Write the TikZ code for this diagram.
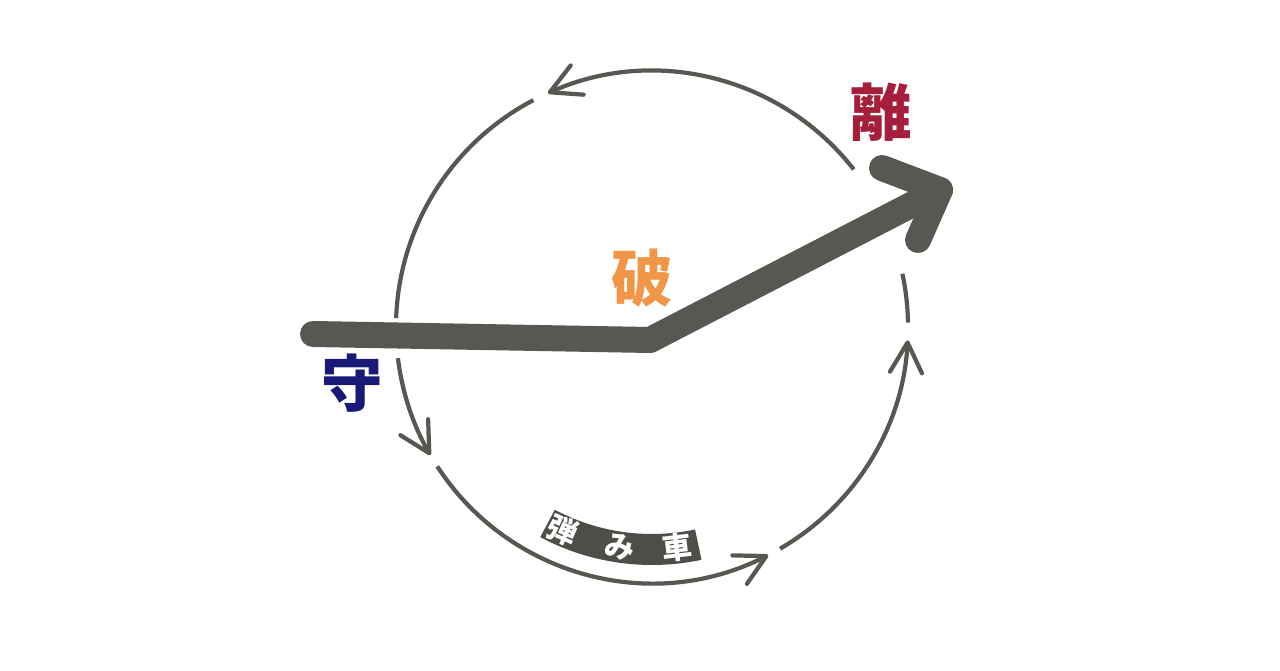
\documentclass[tikz,border=0pt]{standalone}
\usepackage{fontspec}
\usepackage{tikz}
\usepackage{xcolor}
\usetikzlibrary{arrows.meta, calc, positioning}
\newfontfamily\jp{Noto Sans CJK JP}
\definecolor{ringgray}{RGB}{88,88,82}
\definecolor{bandgray}{RGB}{78,78,72}
\definecolor{shucol}{RGB}{25,25,120}
\definecolor{hacol}{RGB}{240,150,70}
\definecolor{ricol}{RGB}{165,30,60}

\begin{document}
\begin{tikzpicture}[x=1cm, y=1cm,
        ring/.style={draw=ringgray, line width=1.2pt},
        tipped/.style={-{Straight Barb[length=3mm, width=3.2mm, round]}},
        kanji/.style={font=\jp\bfseries\fontsize{17.5pt}{18pt}\selectfont, inner sep=0pt},
        bandtext/.style={font=\jp\bfseries\fontsize{8.5pt}{9pt}\selectfont, text=white, inner sep=0pt},
        bigarrow/.style={draw=ringgray, line width=7.4pt, line cap=round, line join=round}]
    \useasboundingbox (0,0) rectangle (12.8,6.7);
    \coordinate (O) at (6.52,3.43);
    % the wheel
    \foreach \a/\b in {38/114, 187/210, 213/297, 300/357}
        \draw [ring, tipped] (O) ++(\a:2.56) arc [start angle=\a, end angle=\b, radius=2.56];
    \foreach \a/\b in {117.6/178, 1/12}
        \draw [ring] (O) ++(\a:2.56) arc [start angle=\a, end angle=\b, radius=2.56];
    % label band
    \fill [bandgray] (O) ++(242:2.38) arc [start angle=242, end angle=282, radius=2.38]
        -- ($(O)+(282:2.07)$) arc [start angle=282, end angle=242, radius=2.07] -- cycle;
    \node [bandtext, rotate=-23.7] (hazumi) at ($(O)+(246.3:2.22)$) {弾};
    \node [bandtext, rotate=-8.3] (mi) at ($(O)+(261.7:2.22)$) {み};
    \node [bandtext, rotate=6.5] (kuruma) at ($(O)+(276.5:2.22)$) {車};
    % shu ha ri
    \coordinate (start) at (3.13,3.36);
    \coordinate (bend) at (6.50,3.30);
    \coordinate (tip) at (9.40,4.80);
    \coordinate (barb1) at (8.82,5.02);
    \coordinate (barb2) at (9.18,4.30);
    \draw [bigarrow] (start) -- (bend) -- (tip);
    \draw [bigarrow] (barb1) -- (tip) -- (barb2);
    \node [kanji, text=shucol] (shu) at (3.52,2.87) {守};
    \node [kanji, text=hacol] (ha) at (6.42,3.92) {破};
    \node [kanji, text=ricol] (ri) at (8.81,5.58) {離};
\end{tikzpicture}
\end{document}
